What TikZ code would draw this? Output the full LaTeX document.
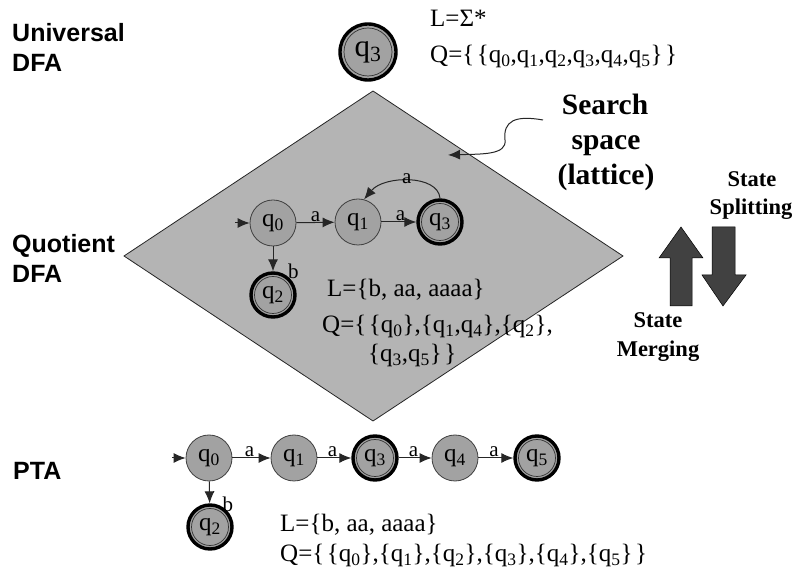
\documentclass[tikz,border=0pt]{standalone}
\usepackage{fontspec}
\setmainfont{Liberation Serif}
\newfontfamily\headsans{Liberation Sans}
\usetikzlibrary{arrows.meta}
\definecolor{stategray}{HTML}{A2A2A2}
\definecolor{latticegray}{HTML}{B4B4B4}
\definecolor{movedark}{HTML}{414141}
% state label with a text subscript
\newcommand{\stq}[1]{q\textsubscript{#1}}
\newcommand{\bsp}{\hspace{0.1em}}
\begin{document}
\begin{tikzpicture}[x=1pt,y=1pt,
  stnode/.style={circle, draw=black!75, line width=0.8pt, fill=stategray,
    minimum size=46pt, inner sep=0pt, font=\rmfamily\fontsize{25}{28}\selectfont},
  accnode/.style={stnode, draw=black, line width=3.4pt, minimum size=44pt,
    path picture={\draw[black!80, line width=0.7pt]
      (path picture bounding box.center) circle (#1);}},
  accnode/.default=18.5pt,
  arr/.style={-{Latex[length=12pt,width=10pt]}, line width=1pt, draw=black!85},
  elabel/.style={font=\rmfamily\fontsize{21}{23}\selectfont, inner sep=0.5pt},
  headtext/.style={font=\headsans\bfseries\fontsize{25}{30}\selectfont,
    anchor=base west, inner sep=0pt},
  sertext/.style={font=\rmfamily\fontsize{25}{30}\selectfont, anchor=base west, inner sep=0pt},
  boldnote/.style={font=\rmfamily\bfseries\fontsize{29.5}{35}\selectfont, anchor=base, inner sep=0pt},
  movenote/.style={font=\rmfamily\bfseries\fontsize{22.5}{27}\selectfont, anchor=base, inner sep=0pt},
  movearrow/.style={fill=movedark, draw=black, line width=0.5pt}
]
\useasboundingbox (0,0) rectangle (798,573);

% level headings
\node[headtext] (hu1) at (12,531) {Universal};
\node[headtext] (hu2) at (12,501) {DFA};
\node[headtext] (hq1) at (12,320) {Quotient};
\node[headtext] (hq2) at (12,290) {DFA};
\node[headtext] (hp)  at (13,93)  {PTA};

% universal automaton
\node[accnode=24pt, minimum size=56pt, font=\rmfamily\fontsize{31}{33}\selectfont] (uq3) at (368,521) {\stq{3}};
\node[sertext] (ul) at (430,546) {L=Σ*};
\node[sertext] (uq) at (430,510)
  {Q=\{\bsp\{\stq0,\stq1,\stq2,\stq3,\stq4,\stq5\}\bsp\}};

% the lattice of quotient automata
\draw[fill=latticegray, line width=0.8pt, draw=black!85]
  (373,482) -- (623,317) -- (373,152) -- (124,317) -- cycle;

\node[boldnote] (ss1) at (605,458) {Search};
\node[boldnote] (ss2) at (606,423) {space};
\node[boldnote] (ss3) at (606,388) {(lattice)};
\coordinate (ssfrom) at (543,453);
\coordinate (ssto) at (448,418);
\draw[arr] (ssfrom) .. controls (515,458) and (503,452) .. (505,433)
  .. controls (507,418) and (482,419) .. (ssto);

% quotient automaton
\node[stnode]  (iq0) at (273,350) {\stq0};
\node[stnode]  (iq1) at (358,351) {\stq1};
\node[accnode] (iq3) at (440,351) {\stq3};
\node[accnode] (iq2) at (273,278) {\stq2};
\coordinate (iq0in) at (235,350);
\draw[arr] (iq0in) -- (iq0);
\draw[arr] (iq0) -- node[elabel, above, pos=0.5] {a} (iq1);
\draw[arr] (iq1) -- node[elabel, above, pos=0.55] {a} (iq3);
\draw[arr] (iq0) -- node[elabel, at end, anchor=base west, xshift=14pt, yshift=-7pt] {b} (iq2);
\draw[arr] (iq3.north) .. controls +(-2,24) and +(20,24) .. (iq1.75)
  node[elabel, pos=0.52, anchor=center, yshift=2pt] {a};

\node[sertext] (ql)  at (327,276) {L=\{b, aa, aaaa\}};
\node[sertext] (qq1) at (322,240) {Q=\{\bsp\{\stq0\},\{\stq1,\stq4\},\{\stq2\},};
\node[sertext] (qq2) at (368,211) {\{\stq3,\stq5\}\bsp\}};

% prefix tree acceptor
\node[stnode]  (pq0) at (209,115) {\stq0};
\node[stnode]  (pq1) at (294,115) {\stq1};
\node[accnode] (pq3) at (375,115) {\stq3};
\node[stnode]  (pq4) at (455,115) {\stq4};
\node[accnode] (pq5) at (537,115) {\stq5};
\node[accnode] (pq2) at (210,46)  {\stq2};
\coordinate (pq0in) at (172,115);
\draw[arr] (pq0in) -- (pq0);
\draw[arr] (pq0) -- node[elabel, above, pos=0.45] {a} (pq1);
\draw[arr] (pq1) -- node[elabel, above, pos=0.45] {a} (pq3);
\draw[arr] (pq3) -- node[elabel, above, pos=0.45] {a} (pq4);
\draw[arr] (pq4) -- node[elabel, above, pos=0.45] {a} (pq5);
\draw[arr] (pq0) -- node[elabel, at end, anchor=base west, xshift=12pt, yshift=-8pt] {b} (pq2);

\node[sertext] (pl) at (280,41) {L=\{b, aa, aaaa\}};
\node[sertext] (pq) at (280,11)
  {Q=\{\bsp\{\stq0\},\{\stq1\},\{\stq2\},\{\stq3\},\{\stq4\},\{\stq5\}\bsp\}};

% merging / splitting arrows
\filldraw[movearrow] (681,346) -- (703,315) -- (692,315) -- (692,267)
  -- (670,267) -- (670,315) -- (659,315) -- cycle;
\filldraw[movearrow] (712,346) -- (735,346) -- (735,298) -- (746,298)
  -- (723,267) -- (702,298) -- (712,298) -- cycle;
\node[movenote] (sp1) at (752,386) {State};
\node[movenote] (sp2) at (751,358) {Splitting};
\node[movenote] (sm1) at (658,245) {State};
\node[movenote] (sm2) at (658,216) {Merging};
\end{tikzpicture}
\end{document}
